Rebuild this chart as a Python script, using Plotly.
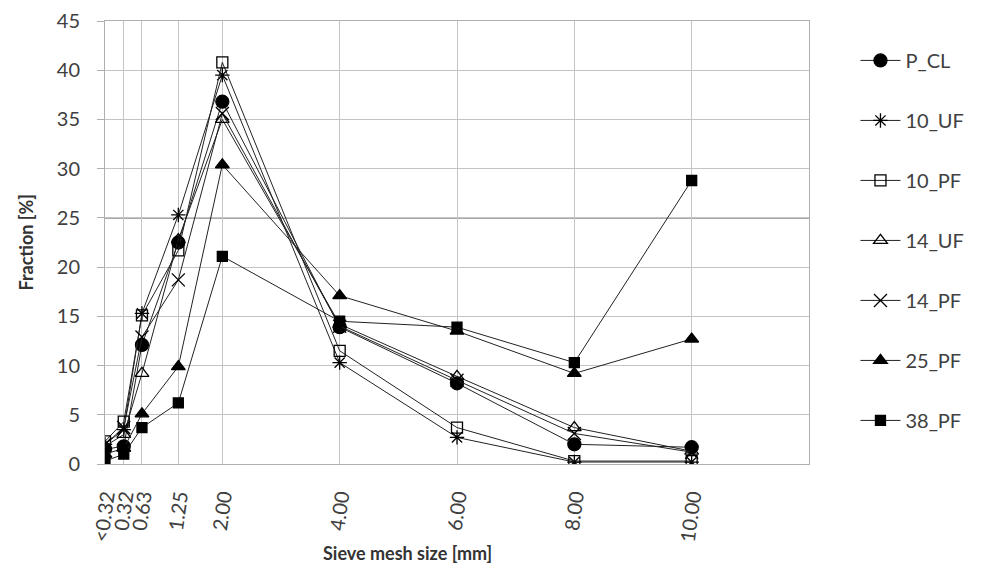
import plotly.graph_objects as go

# Sieve mesh sizes (numeric position on a linear mm axis; "<0.32" plotted at 0)
sieve_mm = [0, 0.32, 0.63, 1.25, 2.0, 4.0, 6.0, 8.0, 10.0]
tick_labels = ["<0.32", "0.32", "0.63", "1.25", "2.00", "4.00", "6.00", "8.00", "10.00"]

P_CL  = [1.5, 1.8, 12.1, 22.5, 36.8, 13.9, 8.2, 2.0, 1.7]
UF_10 = [2.0, 3.5, 15.3, 25.3, 39.5, 10.3, 2.7, 0.2, 0.2]
PF_10 = [2.3, 4.3, 15.1, 21.7, 40.8, 11.5, 3.7, 0.3, 0.3]
UF_14 = [1.8, 3.0, 9.2, 22.8, 35.0, 14.2, 8.9, 3.7, 1.3]
PF_14 = [2.0, 3.7, 12.9, 18.7, 35.6, 14.0, 8.5, 3.1, 1.2]
PF_25 = [1.0, 1.6, 5.1, 9.9, 30.4, 17.1, 13.5, 9.2, 12.7]
PF_38 = [0.3, 1.0, 3.7, 6.2, 21.1, 14.5, 13.9, 10.3, 28.8]

series = [
    ("P_CL", P_CL, "circle", 13),
    ("10_UF", UF_10, "asterisk-open", 12),
    ("10_PF", PF_10, "square-open", 11),
    ("14_UF", UF_14, "triangle-up-open", 12),
    ("14_PF", PF_14, "x-thin-open", 13),
    ("25_PF", PF_25, "triangle-up", 12),
    ("38_PF", PF_38, "square", 10),
]

FONT = "Lato, 'Open Sans', sans-serif"

fig = go.Figure()
for name, vals, sym, sz in series:
    fig.add_trace(go.Scatter(
        x=sieve_mm, y=vals, name=name, mode="lines+markers",
        legendgroup=name,
        line=dict(color="#222222", width=1),
        marker=dict(symbol=sym, size=sz, color="#000000",
                    line=dict(color="#000000", width=1.3)),
    ))

# darker horizontal line at 25 %
fig.add_shape(type="line", xref="x", yref="y", x0=0, x1=12, y0=25, y1=25,
              line=dict(color="#8a8a8a", width=1.5), layer="below")

fig.add_annotation(text="<b>Sieve mesh size [mm]</b>", xref="paper", yref="paper",
                   x=0.429, y=-0.2, xanchor="center", yanchor="middle",
                   showarrow=False, font=dict(family=FONT, size=18, color="#333333"))
fig.add_annotation(text="<b>Fraction [%]</b>", xref="paper", yref="paper",
                   x=-0.1136, y=0.5, xanchor="center", yanchor="middle", textangle=-90,
                   showarrow=False, font=dict(family=FONT, size=18, color="#333333"))

fig.update_layout(
    width=984, height=568,
    margin=dict(l=105, r=175, t=21, b=104),
    paper_bgcolor="white", plot_bgcolor="white",
    font=dict(family=FONT, size=20, color="#404040"),
    legend=dict(x=1.066, y=0.955, xanchor="left", yanchor="top",
                tracegroupgap=31, font=dict(size=20, color="#404040"),
                itemwidth=40),
    xaxis=dict(range=[0, 12], tickmode="array", tickvals=sieve_mm, ticktext=tick_labels,
               tickangle=-82, showgrid=True, gridcolor="#c4c4c4", gridwidth=1,
               showline=True, linecolor="#b0b0b0", mirror=True, zeroline=False,
               ticks="", tickfont=dict(size=20), ticklabelstandoff=12, automargin=False),
    yaxis=dict(range=[0, 45], dtick=5, showgrid=True, gridcolor="#c4c4c4", gridwidth=1,
               showline=True, linecolor="#b0b0b0", mirror=True, zeroline=False,
               ticks="outside", ticklen=7, tickcolor="#b0b0b0",
               tickfont=dict(size=20), ticklabelstandoff=13, automargin=False),
)

fig.write_html("out.html", config={"displayModeBar": False},
               post_script="document.body.style.margin='0';")
